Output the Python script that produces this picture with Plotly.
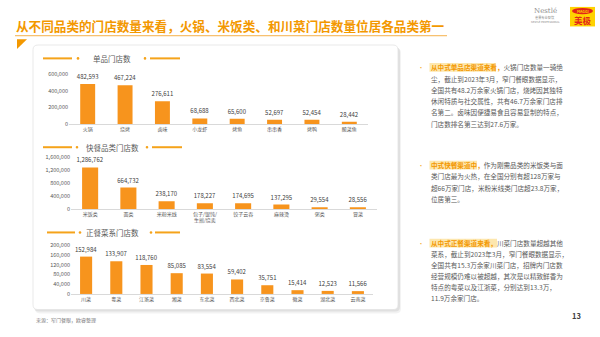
import plotly.graph_objects as go

W, H = 600, 337
FONT = "Noto Sans CJK SC"

# ---------------- data ----------------
cat1 = ["火锅", "烧烤", "卤味", "小龙虾", "烤鱼", "串串香", "烤鸭", "酸菜鱼"]
val1 = [482593, 467224, 276611, 68688, 65600, 52697, 52454, 28442]
tick1 = [0, 200000, 400000, 600000]

cat2 = ["米饭类", "面类", "米粉米线", "包子/馄饨/<br>生煎/烧卖", "饺子云吞", "麻辣烫", "粥类", "冒菜"]
val2 = [1286762, 664732, 238170, 178227, 174695, 137295, 29554, 28556]
tick2 = [0, 400000, 800000, 1200000, 1600000]

cat3 = ["川菜", "粤菜", "江浙菜", "湘菜", "东北菜", "西北菜", "京鲁菜", "徽菜", "湖北菜", "云南菜"]
val3 = [152984, 133907, 118760, 85085, 83554, 59402, 35751, 15414, 12523, 11566]
tick3 = [0, 40000, 80000, 120000, 160000, 200000]

main_title = "从不同品类的门店数量来看，火锅、米饭类、和川菜门店数量位居各品类第一"
sub_titles = ["单品门店数", "快餐品类门店数", "正餐菜系门店数"]
source_text = "来源：窄门餐眼，欧睿整理"

bullet1 = [
    ("从中式单品店渠道来看，", "火锅门店数量一骑绝"),
    ("", "尘，截止到2023年3月，窄门餐眼数据显示，"),
    ("", "全国共有48.2万余家火锅门店，烧烤因其独特"),
    ("", "休闲特质与社交属性，共有46.7万余家门店排"),
    ("", "名第二。卤味因便捷易食且容易复制的特点，"),
    ("", "门店数排名第三达到27.6万家。"),
]
bullet2 = [
    ("中式快餐渠道中，", "作为刚需品类的米饭类与面"),
    ("", "类门店最为火热，在全国分别有超128万家与"),
    ("", "超66万家门店，米粉米线类门店超23.8万家，"),
    ("", "位居第三。"),
]
bullet3 = [
    ("从中式正餐渠道来看，", "川菜门店数量超越其他"),
    ("", "菜系，截止到2023年3月，窄门餐眼数据显示，"),
    ("", "全国共有15.3万余家川菜门店，招牌内门店数"),
    ("", "经营规模仍难以被超越，其次是以精致鲜香为"),
    ("", "特点的粤菜以及江浙菜，分别达到13.3万，"),
    ("", "11.9万余家门店。"),
]

# ---------------- styles ----------------
ORANGE = "#F39800"
BAR = "#F7941D"
DECO = "#F5A31A"
GREY = "#595959"
DARK = "#404040"


def px(x):
    return x / W


def py(y):
    return 1 - y / H


def P(x, y):
    return f"{x / W:.5f},{1 - y / H:.5f}"


shapes = []
annotations = []


def text(x, y, s, size, color, anchor="left", family=FONT):
    annotations.append(dict(
        x=px(x), y=py(y), xref="paper", yref="paper", text=s, showarrow=False,
        xanchor=anchor, yanchor="middle", borderpad=0,
        font=dict(size=size, color=color, family=family)))


def rect(x0, y0, x1, y1, fill, line=None, lw=0, layer="below", opacity=1):
    shapes.append(dict(type="rect", xref="paper", yref="paper",
                       x0=px(x0), x1=px(x1), y0=py(y1), y1=py(y0),
                       fillcolor=fill, opacity=opacity,
                       line=dict(color=line or fill, width=lw), layer=layer))


def rrect(x0, y0, x1, y1, r, fill, line=None, lw=0, opacity=1):
    path = (f"M {P(x0 + r, y0)} L {P(x1 - r, y0)} Q {P(x1, y0)} {P(x1, y0 + r)} "
            f"L {P(x1, y1 - r)} Q {P(x1, y1)} {P(x1 - r, y1)} L {P(x0 + r, y1)} "
            f"Q {P(x0, y1)} {P(x0, y1 - r)} L {P(x0, y0 + r)} Q {P(x0, y0)} {P(x0 + r, y0)} Z")
    shapes.append(dict(type="path", xref="paper", yref="paper", path=path,
                       fillcolor=fill, opacity=opacity,
                       line=dict(color=line or fill, width=lw), layer="below"))


def hline(x0, x1, y, color, w):
    shapes.append(dict(type="line", xref="paper", yref="paper",
                       x0=px(x0), x1=px(x1), y0=py(y), y1=py(y),
                       line=dict(color=color, width=w), layer="below"))


def dot(x, y, r, color):
    shapes.append(dict(type="circle", xref="paper", yref="paper",
                       x0=px(x - r), x1=px(x + r), y0=py(y + r), y1=py(y - r),
                       fillcolor=color, line=dict(width=0), layer="below"))


# ---------------- page header ----------------
text(15, 22, "<b>" + main_title + "</b>", 12.6, ORANGE)
hline(15, 447, 32.5, "#F5B04A", 1)
shapes.append(dict(type="path", xref="paper", yref="paper",
                   path=f"M {P(17, 36)} L {P(27, 36)} L {P(17, 46)} Z",
                   fillcolor="#F39800", line=dict(width=0), layer="below"))

# logos
text(545, 7, "Nestlé", 7, "#8c8c8c", anchor="center", family="DejaVu Serif")
text(545, 13.5, "雀巢专业餐饮", 3.2, "#8c8c8c", anchor="center")
text(545, 18, "NESTLÉ PROFESSIONAL", 2.6, "#8c8c8c", anchor="center")
rect(570, 3, 595, 23, "#FFD200", layer="above")
shapes.append(dict(type="circle", xref="paper", yref="paper",
                   x0=px(572), x1=px(593), y0=py(10.5), y1=py(4),
                   fillcolor="#E2231A", line=dict(width=0), layer="above"))
text(582.5, 7.3, "<b>MAGGI</b>", 3.6, "#FFD200", anchor="center")
text(582.5, 16.5, "<b>美极</b>", 8.5, "#E2231A", anchor="center")

# ---------------- panel ----------------
rrect(35, 45, 401, 317, 5, "#000000", opacity=0.05)
rrect(34, 44, 400, 315, 5, "#000000", opacity=0.07)
rrect(33, 42, 398, 313, 5, "#FFFFFF", line="#E3E3E3", lw=0.8)

# sub titles with decorations
deco = [
    (55.7, (43, 72), 78, 145, (150, 180)),
    (146.7, (43, 72), 77, 147, (152, 182)),
    (234, (47, 75), 80, 151, (155, 180)),
]
for (yy, l1, d1, d2, l2), t in zip(deco, sub_titles):
    hline(l1[0], l1[1], yy, DECO, 2)
    hline(l2[0], l2[1], yy, DECO, 2)
    dot(d1, yy, 1.3, DECO)
    dot(d2, yy, 1.3, DECO)
    text(112, yy, t, 7.5, GREY, anchor="center")

text(35, 324, source_text, 5, "#7f7f7f")

# ---------------- right column text ----------------
def bullet_block(lines, y0, step, hl_end):
    text(421, y0, "•", 6, "#F5A623", anchor="center")
    rect(429.5, y0 - 4.5, hl_end, y0 + 4.5, "#FDE7AE")
    for i, (hl, rest) in enumerate(lines):
        s = ""
        if hl:
            s += f"<span style='color:{ORANGE}'><b>{hl}</b></span>"
        s += rest
        text(430, y0 + i * step, s, 6.6, GREY)


bullet_block(bullet1, 65, 11.5, 496)
bullet_block(bullet2, 165, 11.5, 477)
bullet_block(bullet3, 245, 11.3, 497)

text(576, 319, "<b>13</b>", 7.5, DARK, anchor="center")

# ---------------- charts ----------------
fig = go.Figure()

charts = [
    (cat1, val1, tick1, (69, 368), (72, 123), 0.4),
    (cat2, val2, tick2, (71, 377), (157, 210), 0.42),
    (cat3, val3, tick3, (71, 373), (247, 297), 0.4),
]

layout_axes = {}
for i, (cats, vals, ticks, (xa, xb), (ya, yb), bw) in enumerate(charts, start=1):
    sfx = "" if i == 1 else str(i)
    fig.add_trace(go.Bar(
        x=cats, y=vals, width=bw, marker=dict(color=BAR, line=dict(width=0)),
        text=vals, texttemplate="%{y:,}", textposition="outside",
        textfont=dict(size=6, color=DARK, family=FONT),
        constraintext="none", cliponaxis=False,
        xaxis="x" + sfx, yaxis="y" + sfx, hoverinfo="skip"))
    layout_axes["xaxis" + sfx] = dict(
        domain=[px(xa), px(xb)], anchor="y" + sfx, type="category",
        range=[-0.5, len(cats) - 0.5], showline=True, linecolor="#D9D9D9",
        linewidth=0.8, ticks="", showgrid=False, zeroline=False,
        tickfont=dict(size=5, color=GREY, family=FONT), fixedrange=True)
    layout_axes["yaxis" + sfx] = dict(
        domain=[py(yb), py(ya)], anchor="x" + sfx, range=[0, ticks[-1]],
        tickvals=ticks, tickformat=",", showgrid=False, zeroline=False,
        showline=False, ticks="",
        tickfont=dict(size=5.5, color=GREY, family=FONT), fixedrange=True)

fig.update_layout(
    width=W, height=H, margin=dict(l=0, r=0, t=0, b=0),
    paper_bgcolor="#FFFFFF", plot_bgcolor="rgba(0,0,0,0)",
    showlegend=False, bargap=0.6, font=dict(family=FONT),
    shapes=shapes, annotations=annotations, **layout_axes)

fig.write_html("out.html")
